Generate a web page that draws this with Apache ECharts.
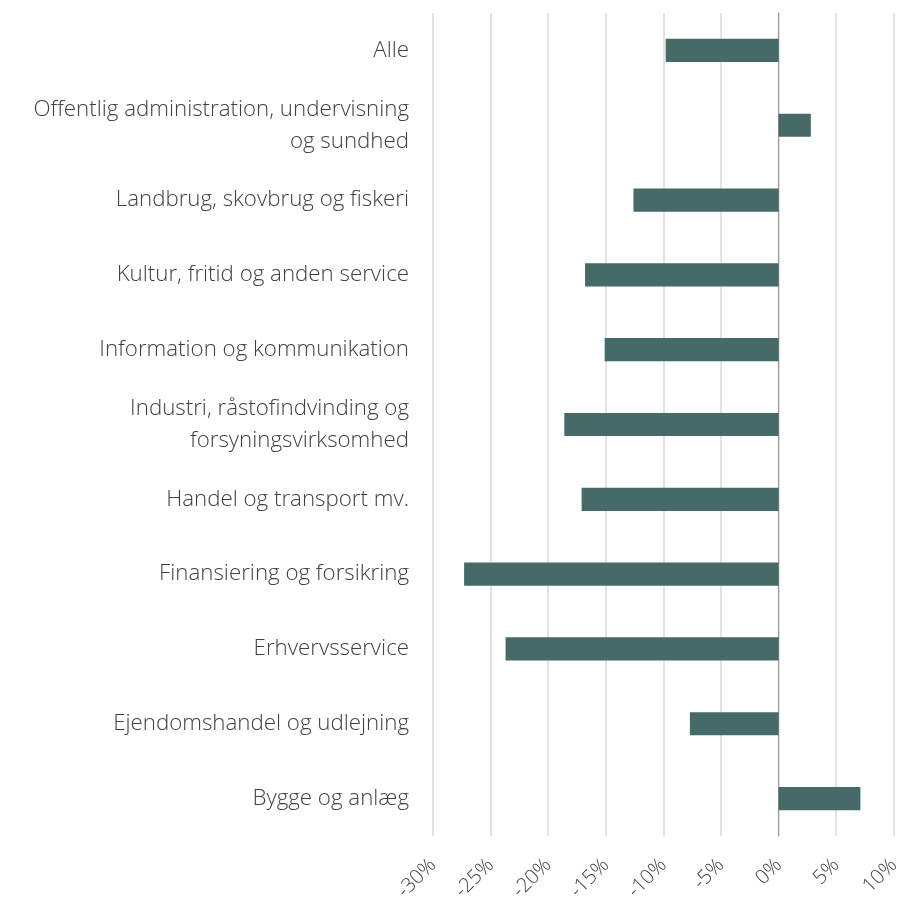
<!DOCTYPE html>
<html><head><meta charset="utf-8">
<script src="https://cdn.jsdelivr.net/npm/echarts@6/dist/echarts.min.js"></script>
<style>html,body{margin:0;padding:0;background:#fff}#c{width:903px;height:904px}</style>
</head><body><div id="c"></div>
<script>
const categories = ["Alle","Offentlig administration, undervisning\nog sundhed","Landbrug, skovbrug og fiskeri","Kultur, fritid og anden service","Information og kommunikation","Industri, råstofindvinding og\nforsyningsvirksomhed","Handel og transport mv.","Finansiering og forsikring","Erhvervsservice","Ejendomshandel og udlejning","Bygge og anlæg"];
const values = [-9.8, 2.8, -12.6, -16.8, -15.1, -18.6, -17.1, -27.3, -23.7, -7.7, 7.1];
const xMin = -30, xMax = 10, xStep = 5;
const chart = echarts.init(document.getElementById('c'));
chart.setOption({
  animation:false,
  grid:{left:433,right:6,top:13,bottom:68,containLabel:false},
  xAxis:{type:'value',min:xMin,max:xMax,interval:xStep,
    axisLine:{show:false},axisTick:{show:false},
    splitLine:{lineStyle:{color:'#d9d9d9',width:1.5}},
    axisLabel:{formatter:v=>v+'%',rotate:45,fontFamily:'Open Sans',fontWeight:300,fontSize:20,color:'#404040',margin:26}},
  yAxis:{type:'category',data:categories,inverse:true,
    axisLine:{show:true,lineStyle:{color:'#999',width:1}},axisTick:{show:false},
    axisLabel:{fontFamily:'Open Sans',fontWeight:300,fontSize:22.3,color:'#404040',margin:24,lineHeight:32,align:'right'}},
  series:[{type:'bar',data:values,barWidth:'31%',itemStyle:{color:'#466a67'}}]
});
</script></body></html>
